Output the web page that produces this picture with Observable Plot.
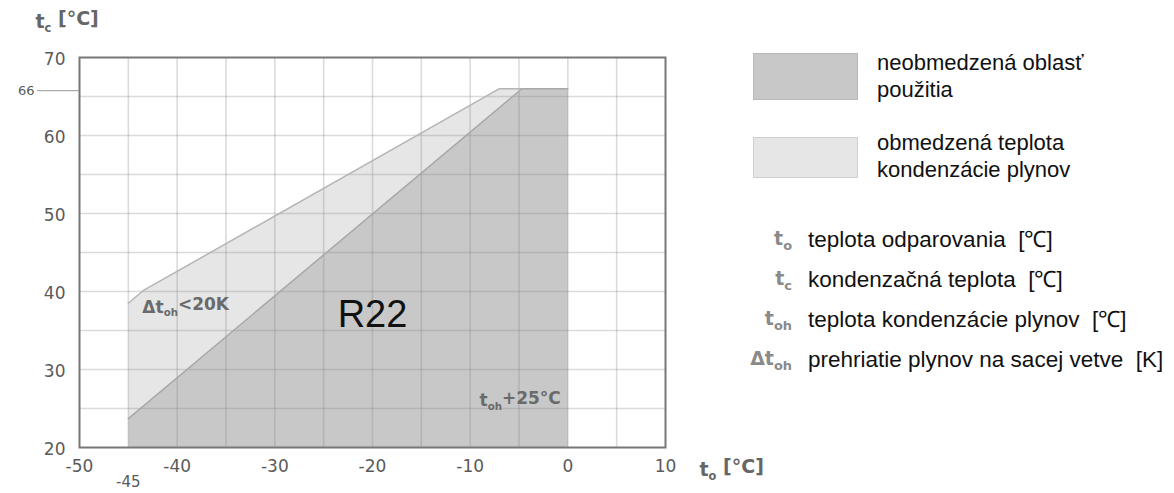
<!DOCTYPE html>
<html><head><meta charset="utf-8">
<script src="https://cdn.jsdelivr.net/npm/d3@7"></script>
<script src="https://cdn.jsdelivr.net/npm/@observablehq/plot@0.6"></script>
<style>
body{margin:0;background:#fff;}
#wrap{position:relative;width:1174px;height:493px;overflow:hidden;font-family:"Liberation Sans",Arial,sans-serif;}
#chart{position:absolute;left:0;top:0;}
.sw{position:absolute;left:753px;width:105px;box-sizing:border-box;}
.lt{position:absolute;left:877px;font-size:22px;line-height:27px;color:#111;white-space:nowrap;}
.sym{position:absolute;left:730px;width:62px;text-align:right;font-family:"DejaVu Sans";font-weight:bold;font-size:19px;color:#8a8a8a;line-height:20px;}
.sym sub{font-size:68%;vertical-align:-0.4em;line-height:0;}
.st{position:absolute;left:808px;font-size:22.5px;color:#111;line-height:26px;white-space:nowrap;}
</style></head>
<body><div id="wrap"><div id="chart"></div><div id="legend"></div></div>
<script>
// axis ticks
const tickX = [-50, -40, -30, -20, -10, 0, 10];
const tickY = [20, 30, 40, 50, 60, 70];
const gridX = [-45, -40, -35, -30, -25, -20, -15, -10, -5, 0, 5];
const gridY = [25, 30, 35, 40, 45, 50, 55, 60, 65];
const extraTickX = [-45];
const extraTickY = [66];
// unlimited area (dark): evaporating temp t0, condensing temp tc
const unlimitedT0 = [-45, -45, -4.7, 0, 0];
const unlimitedTc = [20, 23.7, 66, 66, 20];
// limited area (light)
const limitedT0 = [-45, -45, -43.5, -7, -4.7];
const limitedTc = [23.7, 38.5, 40.1, 66, 66];
// legend
const areaLabels = ["neobmedzená oblasť<br>použitia", "obmedzená teplota<br>kondenzácie plynov"];
const symbolLabels = ["t<sub>o</sub>", "t<sub>c</sub>", "t<sub>oh</sub>", "Δt<sub>oh</sub>"];
const symbolTexts = ["teplota odparovania&nbsp; [℃]", "kondenzačná teplota&nbsp; [℃]", "teplota kondenzácie plynov&nbsp; [℃]", "prehriatie plynov na sacej vetve&nbsp; [K]"];

const DARK = "#c8c8c8", LIGHT = "#e6e6e6";
const pts = (xs, ys) => xs.map((x, i) => ({x, y: ys[i]}));
const darkPoly = pts(unlimitedT0, unlimitedTc);
const lightPoly = pts(limitedT0, limitedTc);
const darkEdge = darkPoly.slice(1, 4);
const lightEdge = lightPoly.slice(1);
const fmt = d => d < 0 ? "-" + Math.abs(d) : String(d);
const axisFont = {fontFamily: "DejaVu Sans", fill: "#5a5a5a"};

const plot = Plot.plot({
  width: 780, height: 493,
  marginLeft: 79, marginRight: 115, marginTop: 57, marginBottom: 46,
  style: {fontFamily: "DejaVu Sans", fontSize: "17px", background: "transparent", overflow: "visible"},
  x: {domain: [-50, 10], axis: null},
  y: {domain: [20, 70], axis: null},
  marks: [
    Plot.line(lightPoly, {x: "x", y: "y", fill: LIGHT, stroke: "none"}),
    Plot.line(darkPoly, {x: "x", y: "y", fill: DARK, stroke: "none"}),
    Plot.ruleX(gridX, {stroke: "#888", strokeOpacity: 0.3, strokeWidth: 1.6}),
    Plot.ruleY(gridY, {stroke: "#888", strokeOpacity: 0.3, strokeWidth: 1.6}),
    Plot.line(lightEdge, {x: "x", y: "y", stroke: "#b4b4b4", strokeWidth: 1.5}),
    Plot.line(darkEdge, {x: "x", y: "y", stroke: "#a8a8a8", strokeWidth: 1.5}),
    Plot.frame({stroke: "#777", strokeWidth: 2}),
    Plot.axisX(tickX, {tickSize: 0, tickPadding: 12, tickFormat: fmt, fontSize: 17, label: null, ...axisFont}),
    Plot.axisX(extraTickX, {tickSize: 0, tickPadding: 29, tickFormat: fmt, fontSize: 15, label: null, ...axisFont}),
    Plot.axisY(tickY, {tickSize: 0, tickPadding: 14, fontSize: 17, label: null, dy: 2, ...axisFont}),
    Plot.axisY(extraTickY, {tickSize: 42, tickPadding: 3, fontSize: 13, label: null, dy: 2, stroke: "#999", ...axisFont}),
    Plot.text(["t_{c} [°C]"], {frameAnchor: "top-left", dx: -44, dy: -36, textAnchor: "start", lineAnchor: "middle", fontSize: 19, fontWeight: "bold", fill: "#666"}),
    Plot.text(["t_{o} [°C]"], {frameAnchor: "bottom-right", dx: 34, dy: 22, textAnchor: "start", lineAnchor: "middle", fontSize: 19, fontWeight: "bold", fill: "#666"}),
    Plot.text([lightPoly[1]], {x: "x", y: "y", text: () => "Δt_{oh}<20K", dx: 14, dy: 4, textAnchor: "start", lineAnchor: "middle", fontSize: 17, fontWeight: "bold", fill: "#6a6a6a"}),
    Plot.text([{x: -20, y: 37}], {x: "x", y: "y", text: () => "R22", fontFamily: "Liberation Sans", fontSize: 38, fill: "#111", lineAnchor: "middle"}),
    Plot.text([{x: 0, y: 26}], {x: "x", y: "y", text: () => "t_{oh}+25°C", dx: -7, textAnchor: "end", lineAnchor: "middle", fontSize: 17, fontWeight: "bold", fill: "#6a6a6a"})
  ]
});

// subscripts
d3.select(plot).selectAll("text").each(function() {
  const t = this.textContent;
  if (!t.includes("_{")) return;
  const parts = t.split(/_\{([^}]*)\}/);
  const sel = d3.select(this);
  sel.text(null);
  parts.forEach((p, i) => {
    if (!p) return;
    if (i % 2 === 1) {
      sel.append("tspan").attr("font-size", "60%").attr("dy", "0.35em").text(p);
    } else {
      const ts = sel.append("tspan").text(p);
      if (i > 0) ts.attr("dy", "-0.35em");
    }
  });
});
document.getElementById("chart").appendChild(plot);

// legend
const leg = document.getElementById("legend");
const swTops = [53, 137], swH = [47, 41], swFill = [DARK, LIGHT], swBorder = ["#b8b8b8", "#cfcfcf"], txtTops = [49, 129];
areaLabels.forEach((lab, i) => {
  const s = document.createElement("div");
  s.className = "sw";
  s.style.top = swTops[i] + "px"; s.style.height = swH[i] + "px";
  s.style.background = swFill[i]; s.style.border = "1px solid " + swBorder[i];
  leg.appendChild(s);
  const t = document.createElement("div");
  t.className = "lt"; t.style.top = txtTops[i] + "px"; t.innerHTML = lab;
  leg.appendChild(t);
});
const rowY = [240, 280, 320, 360];
symbolLabels.forEach((lab, i) => {
  const s = document.createElement("div");
  s.className = "sym"; s.style.top = (rowY[i] - 12) + "px"; s.innerHTML = lab;
  leg.appendChild(s);
  const t = document.createElement("div");
  t.className = "st"; t.style.top = (rowY[i] - 13) + "px"; t.innerHTML = symbolTexts[i];
  leg.appendChild(t);
});
</script>
</body></html>
